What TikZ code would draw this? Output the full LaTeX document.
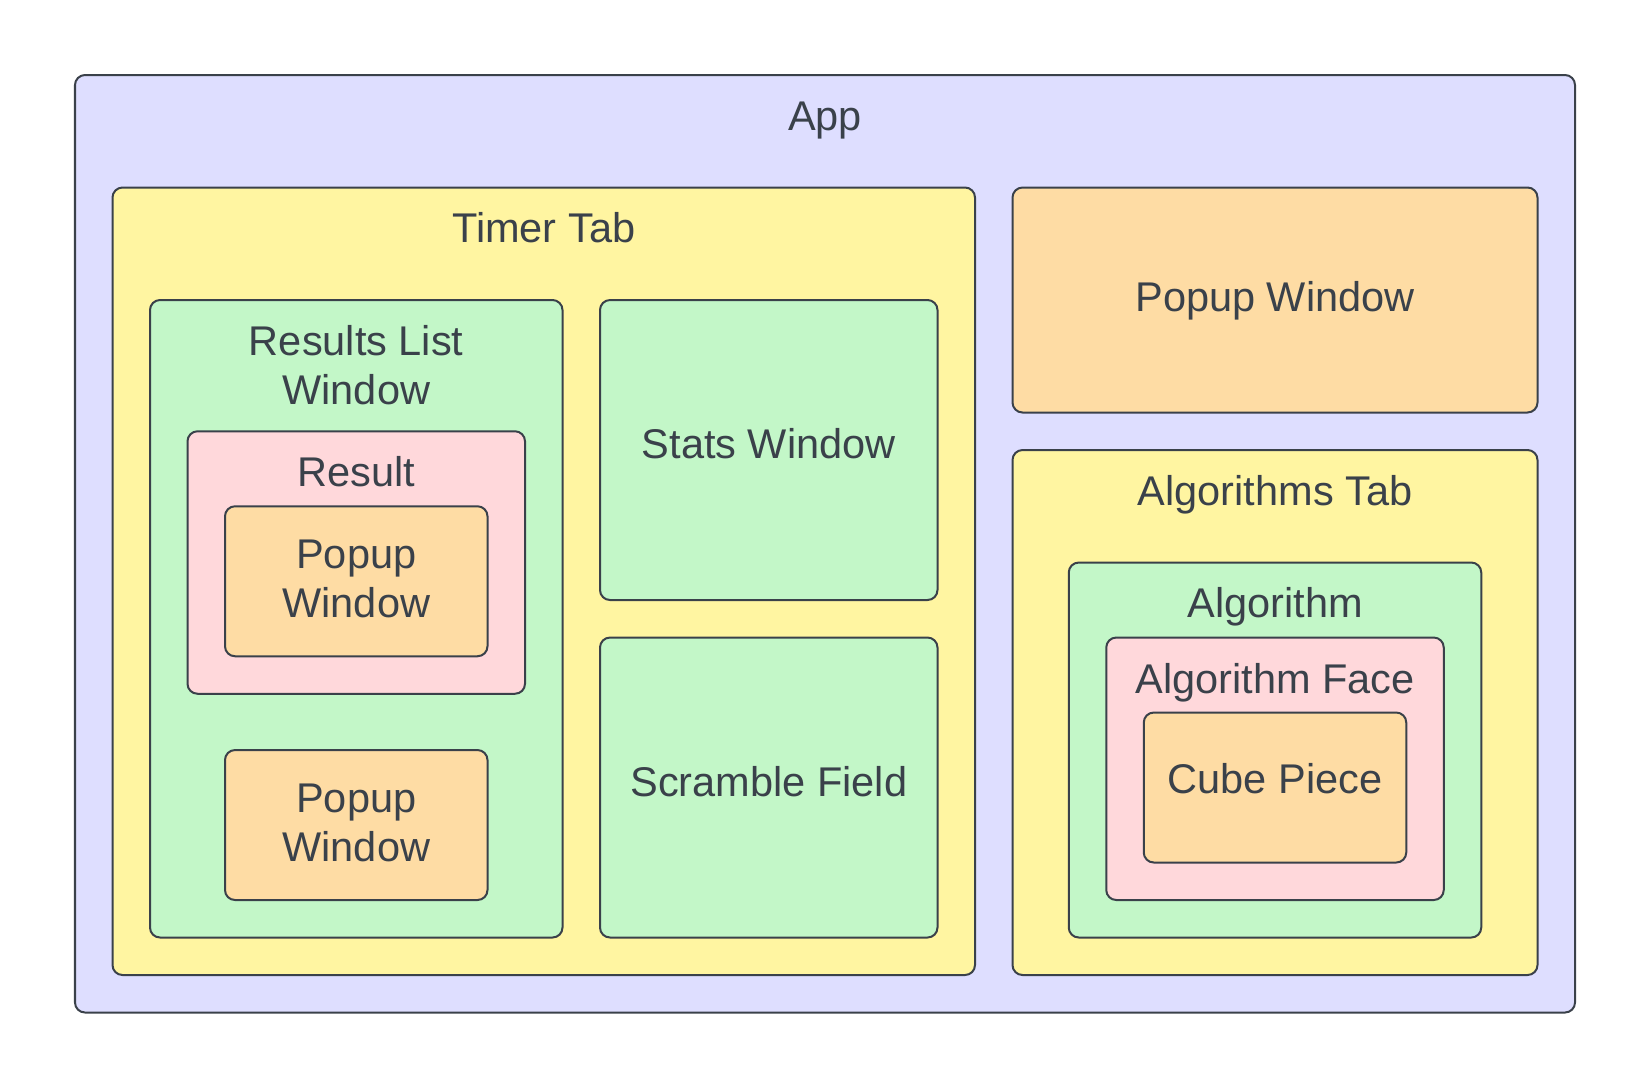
\documentclass[tikz,border=0pt]{standalone}
\usepackage{fontspec}
\setmainfont{Liberation Sans}
\usetikzlibrary{fit}
\definecolor{ink}{RGB}{58,65,74}
\definecolor{appc}{RGB}{222,222,255}
\definecolor{tabc}{RGB}{255,245,161}
\definecolor{winc}{RGB}{195,247,200}
\definecolor{resc}{RGB}{255,216,219}
\definecolor{popc}{RGB}{254,220,164}
\tikzset{
  box/.style={draw=ink, line width=0.76pt, rounded corners=3.8pt, inner sep=0pt, outer sep=0pt},
  lbl/.style={text=ink, font=\fontsize{15.75}{19}\selectfont, inner sep=0pt, anchor=base},
}
\begin{document}
\begin{tikzpicture}[x=0.37937pt,y=-0.37937pt]
\useasboundingbox (0,0) rectangle (1650,1088);
% boxes
\node[box, fill=appc, fit={(75,75) (1575,1012.5)}] (app) {};
\node[box, fill=tabc, fit={(112.5,187.5) (975,975)}] (timer) {};
\node[box, fill=popc, fit={(1012.5,187.5) (1537.5,412.5)}] (popupA) {};
\node[box, fill=tabc, fit={(1012.5,450) (1537.5,975)}] (algtab) {};
\node[box, fill=winc, fit={(150,300) (562.5,937.5)}] (results) {};
\node[box, fill=winc, fit={(600,300) (937.5,600)}] (stats) {};
\node[box, fill=winc, fit={(600,637.5) (937.5,937.5)}] (scramble) {};
\node[box, fill=resc, fit={(187.5,431.25) (525,693.75)}] (result) {};
\node[box, fill=popc, fit={(225,506.25) (487.5,656.25)}] (popupB) {};
\node[box, fill=popc, fit={(225,750) (487.5,900)}] (popupC) {};
\node[box, fill=winc, fit={(1068.75,562.5) (1481.25,937.5)}] (algorithm) {};
\node[box, fill=resc, fit={(1106.25,637.5) (1443.75,900)}] (face) {};
\node[box, fill=popc, fit={(1143.75,712.5) (1406.25,862.5)}] (cube) {};
% labels
\node[lbl] (appT) at (825,130) {App};
\node[lbl] (timerT) at (543.75,242.5) {Timer Tab};
\node[lbl] (popupAT) at (1275,311) {Popup Window};
\node[lbl] (algtabT) at (1275,505) {Algorithms Tab};
\node[lbl] (resultsT1) at (356.25,355) {Results List};
\node[lbl] (resultsT2) at (356.25,404.3) {Window};
\node[lbl] (statsT) at (768.75,458.3) {Stats Window};
\node[lbl] (scrambleT) at (768.75,796.5) {Scramble Field};
\node[lbl] (resultT) at (356.25,486) {Result};
\node[lbl] (popupBT1) at (356.25,568.5) {Popup};
\node[lbl] (popupBT2) at (356.25,617.8) {Window};
\node[lbl] (popupCT1) at (356.25,812.3) {Popup};
\node[lbl] (popupCT2) at (356.25,861.6) {Window};
\node[lbl] (algorithmT) at (1275,617.5) {Algorithm};
\node[lbl] (faceT) at (1275,693) {Algorithm Face};
\node[lbl] (cubeT) at (1275,793.3) {Cube Piece};
\end{tikzpicture}
\end{document}
